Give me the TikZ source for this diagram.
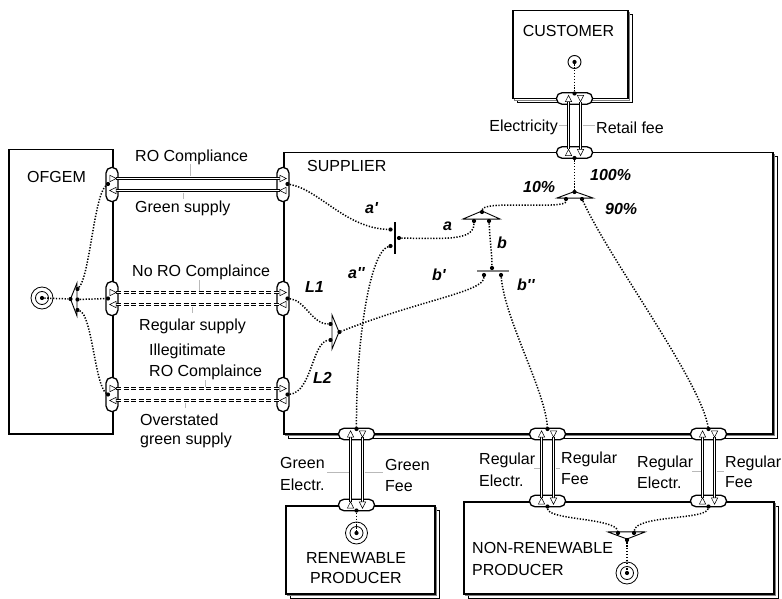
\documentclass[tikz,border=0pt]{standalone}
\usepackage{fontspec}
\setmainfont{Liberation Sans}
\usetikzlibrary{calc}
\newcommand\trR[1]{\draw[porttri] (#1) ++(-3.2,-3.2) -- ++(6.4,3.2) -- ++(-6.4,3.2) -- cycle;}
\newcommand\trL[1]{\draw[porttri] (#1) ++(3.2,-3.2) -- ++(-6.4,3.2) -- ++(6.4,3.2) -- cycle;}
\newcommand\trU[1]{\draw[porttri] (#1) ++(-3.2,3.2) -- ++(3.2,-6.4) -- ++(3.2,6.4) -- cycle;}
\newcommand\trD[1]{\draw[porttri] (#1) ++(-3.2,-3.2) -- ++(3.2,6.4) -- ++(3.2,-6.4) -- cycle;}
\newcommand\stackshadow[4]{%
  \draw[line width=1pt, fill=white] (#1+5,#2+5) rectangle (#3+5,#4+5);
  \draw[line width=1pt, draw=gray, fill=white] (#1+2.5,#2+2.5) rectangle (#3+2.5,#4+2.5);}
\newcommand\pq{\textquotesingle}
\begin{document}
\begin{tikzpicture}[x=1pt,y=-1pt,
 actorbox/.style={draw,line width=1.5pt,fill=white,inner sep=0pt,anchor=north west},
 vpill/.style={draw,fill=white,line width=1.3pt,rounded corners=5.5pt,minimum width=12pt,minimum height=34pt,inner sep=0pt},
 hpill/.style={draw,fill=white,line width=1.3pt,rounded corners=5.5pt,minimum width=36pt,minimum height=11.5pt,inner sep=0pt},
 porttri/.style={draw,fill=white,line width=0.5pt},
 xfer/.style={line width=0.9pt,double=white,double distance=1pt},
 xferd/.style={xfer,dash pattern=on 5pt off 2.5pt},
 conn/.style={line width=1.5pt,dash pattern=on 1.3pt off 1.6pt},
 cdot/.style={circle,fill,inner sep=0pt,minimum size=4.2pt},
 lbltick/.style={draw=gray!55,line width=0.8pt},
 lbl/.style={font=\fontsize{16}{18}\selectfont,inner sep=0pt},
 bilbl/.style={font=\fontsize{16}{18}\selectfont\bfseries\itshape,inner sep=0pt},
 fork/.style={draw,line width=0.9pt,fill=white},
 stim/.style={circle,draw,line width=0.8pt,inner sep=0pt},
]
\fill[white] (0,0) rectangle (782,599);
\useasboundingbox (0,0) rectangle (782,599);

% ---------- actors ----------
\node[actorbox,minimum width=104pt,minimum height=284pt] (ofgem) at (8,149) {};
\stackshadow{283}{152}{772}{433}
\node[actorbox,minimum width=489pt,minimum height=281pt] (supplier) at (283,152) {};
\stackshadow{512}{10}{627}{98}
\node[actorbox,minimum width=115pt,minimum height=88pt] (customer) at (512,10) {};
\stackshadow{285}{505}{434}{593}
\node[actorbox,minimum width=149pt,minimum height=88pt] (renew) at (285,505) {};
\stackshadow{463}{501}{773}{593}
\node[actorbox,minimum width=310pt,minimum height=92pt] (nonrenew) at (463,501) {};

\node[lbl,anchor=base west] at (27,182.5) {OFGEM};
\node[lbl,anchor=base west] at (307,171.5) {SUPPLIER};
\node[lbl,anchor=base] at (568.5,36.7) {CUSTOMER};
\node[lbl,anchor=base] at (356,563) {RENEWABLE};
\node[lbl,anchor=base] at (356,583) {PRODUCER};
\node[lbl,anchor=base west] at (472,553) {NON-RENEWABLE};
\node[lbl,anchor=base west] at (472,575) {PRODUCER};

% ---------- value interfaces ----------
\node[vpill] (po1) at (112,184.5) {};
\node[vpill] (po2) at (112,298.5) {};
\node[vpill] (po3) at (112,394.5) {};
\node[vpill] (ps1) at (283,184.5) {};
\node[vpill] (ps2) at (283,298.5) {};
\node[vpill] (ps3) at (283,394.5) {};
\node[hpill] (pc) at (574.5,98.5) {};
\node[hpill] (pst) at (574.5,152.5) {};
\node[hpill] (psb1) at (356.5,434) {};
\node[hpill] (psb2) at (547.5,434) {};
\node[hpill] (psb3) at (708.5,434) {};
\node[hpill] (pr) at (356.5,505) {};
\node[hpill] (pn1) at (547.5,501) {};
\node[hpill] (pn2) at (708.5,501) {};

% ---------- value transfers ----------
\draw[xfer] ($(po1)+(4.2,-6)$) -- ($(ps1)+(-3.2,-6)$);
\draw[xfer] ($(po1)+(4.2,6)$) -- ($(ps1)+(-3.2,6)$);
\draw[xferd] ($(po2)+(4.2,-6)$) -- ($(ps2)+(-3.2,-6)$);
\draw[xferd] ($(po2)+(4.2,6)$) -- ($(ps2)+(-3.2,6)$);
\draw[xferd] ($(po3)+(4.2,-6)$) -- ($(ps3)+(-3.2,-6)$);
\draw[xferd] ($(po3)+(4.2,6)$) -- ($(ps3)+(-3.2,6)$);
\foreach \uu/\ll in {pc/pst,psb1/pr,psb2/pn1,psb3/pn2}{
  \draw[xfer] ($(\uu)+(-6,3.2)$) -- ($(\ll)+(-6,-3.2)$);
  \draw[xfer] ($(\uu)+(6,3.2)$) -- ($(\ll)+(6,-3.2)$);
}
% ports
\foreach \p in {po1,po2,po3}{\trR{$(\p)+(1,-6)$}\trL{$(\p)+(1,6)$}}
\foreach \p in {ps1,ps2,ps3}{\trR{$(\p)+(0,-6)$}\trL{$(\p)+(0,6)$}}
\foreach \p in {pc,pst,psb1,psb2,psb3,pr,pn1,pn2}{\trU{$(\p)+(-6,0)$}\trD{$(\p)+(6,0)$}}

% ---------- transfer labels ----------
\node[lbl,anchor=base west] at (135,161) {RO Compliance};
\draw[lbltick] (190,164) -- (190,176.5);
\node[lbl,anchor=base west] at (135,212.7) {Green supply};
\draw[lbltick] (183,192.5) -- (183,199);
\node[lbl,anchor=base west] at (132,276.7) {No RO Complaince};
\draw[lbltick] (199,280) -- (199,290.5);
\node[lbl,anchor=base west] at (139,330) {Regular supply};
\draw[lbltick] (192,306.5) -- (192,313);
\node[lbl,anchor=base west] at (149,355.7) {Illegitimate};
\node[lbl,anchor=base west] at (149,376.7) {RO Complaince};
\draw[lbltick] (205,380) -- (205,386.5);
\node[lbl,anchor=base west] at (140,425) {Overstated};
\node[lbl,anchor=base west] at (140,444) {green supply};
\draw[lbltick] (185,402.5) -- (185,408);
\node[lbl,anchor=base east] at (558,131.7) {Electricity};
\draw[lbltick] (559,125) -- (566.5,125);
\node[lbl,anchor=base west] at (596,134) {Retail fee};
\draw[lbltick] (582.5,125) -- (595,125);
\node[lbl,anchor=base west] at (280,468) {Green};
\node[lbl,anchor=base west] at (280,490) {Electr.};
\draw[lbltick] (327,472) -- (348.5,472);
\node[lbl,anchor=base west] at (385,470) {Green};
\node[lbl,anchor=base west] at (385,491) {Fee};
\draw[lbltick] (364.5,472) -- (383,472);
\node[lbl,anchor=base west] at (479,464) {Regular};
\node[lbl,anchor=base west] at (479,486) {Electr.};
\draw[lbltick] (534,468) -- (539.5,468);
\node[lbl,anchor=base west] at (561,463) {Regular};
\node[lbl,anchor=base west] at (561,484) {Fee};
\draw[lbltick] (555.5,468) -- (560,468);
\node[lbl,anchor=base west] at (637,467) {Regular};
\node[lbl,anchor=base west] at (637,488) {Electr.};
\draw[lbltick] (692,471) -- (700.5,471);
\node[lbl,anchor=base west] at (725,467) {Regular};
\node[lbl,anchor=base west] at (725,487) {Fee};
\draw[lbltick] (716.5,471) -- (724,471);

% ---------- stimuli ----------
\node[stim,minimum size=22pt] (sto) at (42,298) {};
\draw[line width=0.8pt] (sto) circle (6.5);
\node[cdot] (stod) at (sto) {};
\node[stim,line width=0.9pt,minimum size=13pt] (stc) at (574.5,62) {};
\node[cdot] (stcd) at (stc) {};
\node[stim,minimum size=22pt] (str) at (356.5,533) {};
\draw[line width=0.8pt] (str) circle (6.5);
\node[cdot] (strd) at (str) {};
\node[stim,minimum size=22pt] (stn) at (627,573) {};
\draw[line width=0.8pt] (stn) circle (6.5);
\node[cdot] (stnd) at (stn) {};

% ---------- forks and bars ----------
\draw[fork] (77,283) -- (70.5,299) -- (77,316) -- cycle;
\draw[fork] (332,315) -- (339,332) -- (332,349) -- cycle;
\draw[line width=1.5pt] (395,222) -- (395,254);
\draw[gray,line width=1.2pt] (463,219.5) -- (500,219.5);
\draw[fork] (463,219) -- (482,211) -- (500,219) -- cycle;
\draw[gray,line width=1.2pt] (557,198.5) -- (593,198.5);
\draw[fork] (557,198) -- (574.5,191.5) -- (593,198) -- cycle;
\draw[gray,line width=1.8pt] (477,271) -- (509,271);
\draw[gray,line width=1.2pt] (608,531.5) -- (645,531.5);
\draw[fork] (608,532) -- (627,539) -- (645,532) -- cycle;

% ---------- dots ----------
\node[cdot] (fo) at (70.5,299) {};
\node[cdot] (fo1) at (77.5,289) {};
\node[cdot] (fo2) at (77.5,299.5) {};
\node[cdot] (fo3) at (77.5,310) {};
\node[cdot] (lf1) at (330.5,324) {};
\node[cdot] (lf2) at (330.5,340) {};
\node[cdot] (lfo) at (339.5,332) {};
\node[cdot] (aa1) at (390.5,229.5) {};
\node[cdot] (aa2) at (390.5,246) {};
\node[cdot] (aao) at (399,238) {};
\node[cdot] (t1a) at (482,212) {};
\node[cdot] (t1l) at (474,221) {};
\node[cdot] (t1r) at (489,221) {};
\node[cdot] (t2a) at (574.5,192) {};
\node[cdot] (t2l) at (566,199) {};
\node[cdot] (t2r) at (582,199) {};
\node[cdot] (bb) at (492,268) {};
\node[cdot] (bb1) at (484,275) {};
\node[cdot] (bb2) at (501,275) {};
\node[cdot] (nf1) at (618,533) {};
\node[cdot] (nf2) at (634,533) {};
\node[cdot] (nfo) at (627,540) {};
\node[cdot] (dpo1) at (108,184) {};
\node[cdot] (dpo2) at (108,298.5) {};
\node[cdot] (dpo3) at (108,394.5) {};
\node[cdot] (dps1) at (287.5,184) {};
\node[cdot] (dps2) at (287.5,298.5) {};
\node[cdot] (dps3) at (287.5,394.5) {};
\node[cdot] (dpc) at (574.5,93.5) {};
\node[cdot] (dpst) at (574.5,158) {};
\node[cdot] (dpb1) at (356.5,429) {};
\node[cdot] (dpb2) at (547.5,429) {};
\node[cdot] (dpb3) at (708.5,429) {};
\node[cdot] (dpr) at (356.5,510.5) {};
\node[cdot] (dpn1) at (547.5,506.5) {};
\node[cdot] (dpn2) at (708.5,506.5) {};

% ---------- dependency paths ----------
\draw[conn] (stod) -- (fo);
\draw[conn] (fo1) .. controls (90,275) and (94,195) .. (dpo1);
\draw[conn] (fo2) -- (dpo2);
\draw[conn] (fo3) .. controls (92,315) and (95,385) .. (dpo3);
\draw[conn] (dps1) .. controls (320,190) and (345,228) .. (aa1);
\draw[conn] (aa2) .. controls (370,252) and (356,340) .. (dpb1);
\draw[conn] (aao) .. controls (450,239) and (474,240) .. (t1l);
\draw[conn] (t1r) .. controls (490,240) and (492,255) .. (bb);
\draw[conn] (t1a) .. controls (483,200) and (566,210) .. (t2l);
\draw[conn] (dpst) -- (t2a);
\draw[conn] (t2r) .. controls (610,260) and (700,380) .. (dpb3);
\draw[conn] (bb1) .. controls (484,292) and (420,300) .. (lfo);
\draw[conn] (bb2) .. controls (505,320) and (545,390) .. (dpb2);
\draw[conn] (dps2) .. controls (305,300) and (312,324) .. (lf1);
\draw[conn] (dps3) .. controls (312,392) and (312,342) .. (lf2);
\draw[conn] (stcd) -- (dpc);
\draw[conn] (dpr) -- (strd);
\draw[conn] (dpn1) .. controls (548,520) and (615,518) .. (nf1);
\draw[conn] (dpn2) .. controls (706,520) and (636,515) .. (nf2);
\draw[conn] (nfo) -- (stnd);

% ---------- path labels ----------
\node[bilbl,anchor=base west] at (365,213) {a\pq};
\node[bilbl,anchor=base west] at (348,278) {a\pq\pq};
\node[bilbl,anchor=base west] at (443,230) {a};
\node[bilbl,anchor=base west] at (497,248) {b};
\node[bilbl,anchor=base west] at (432,280) {b\pq};
\node[bilbl,anchor=base west] at (517,290) {b\pq\pq};
\node[bilbl,anchor=base west] at (305,292) {L1};
\node[bilbl,anchor=base west] at (313,383) {L2};
\node[bilbl,anchor=base west] at (523,193) {10\%};
\node[bilbl,anchor=base west] at (590,180) {100\%};
\node[bilbl,anchor=base west] at (605,214) {90\%};
\end{tikzpicture}
\end{document}
